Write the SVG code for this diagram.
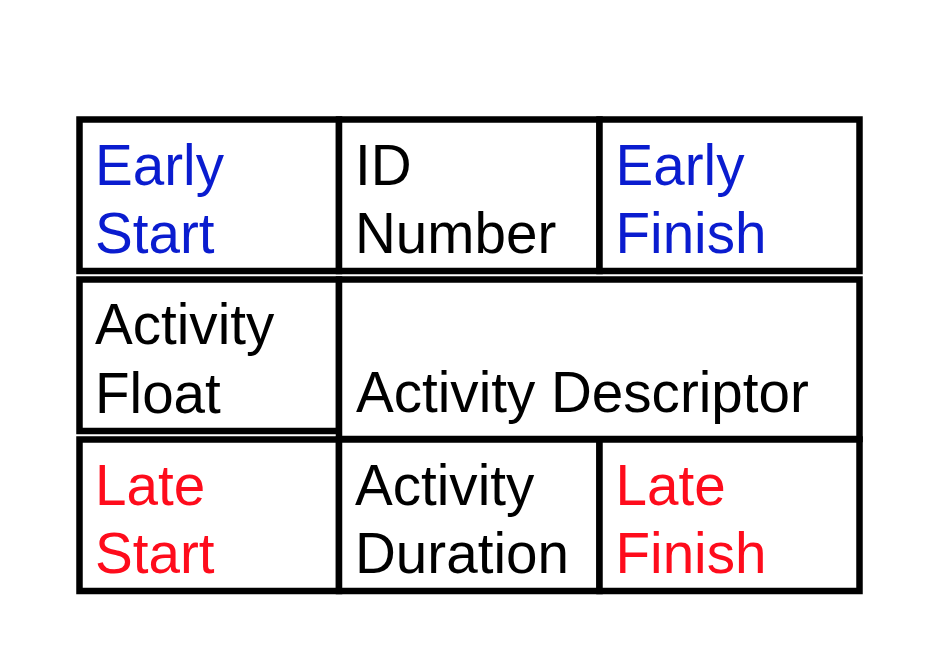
<svg xmlns="http://www.w3.org/2000/svg" width="944" height="668" viewBox="0 0 944 668">
<style>
.cell{fill:#fff;stroke:#000;stroke-width:6.5}
text{font-family:"Liberation Sans",Arial,sans-serif;font-size:56.6px}
.blue{fill:#0a1ccf}
.red{fill:#fe0c1c}
.black{fill:#000}
</style>
<rect width="944" height="668" fill="#fff"/>
<g id="early-start"><rect class="cell" x="79.5" y="119.5" width="259.5" height="151.5"/><text class="blue" x="95" y="185">Early</text><text class="blue" x="95" y="252.5">Start</text></g>
<g id="id-number"><rect class="cell" x="339" y="119.5" width="260.5" height="151.5"/><text class="black" x="355" y="185">ID</text><text class="black" x="355" y="252.5">Number</text></g>
<g id="early-finish"><rect class="cell" x="599.5" y="119.5" width="260" height="151.5"/><text class="blue" x="615.5" y="185">Early</text><text class="blue" x="615.5" y="252.5">Finish</text></g>
<g id="activity-float"><rect class="cell" x="79.5" y="279.5" width="259.5" height="151.5"/><text class="black" x="95" y="344">Activity</text><text class="black" x="95" y="412.5">Float</text></g>
<g id="activity-descriptor"><rect class="cell" x="339" y="279.5" width="520.5" height="159.5"/><text class="black" x="356" y="411.5">Activity Descriptor</text></g>
<g id="late-start"><rect class="cell" x="79.5" y="439.5" width="259.5" height="151.5"/><text class="red" x="95" y="505">Late</text><text class="red" x="95" y="572.5">Start</text></g>
<g id="activity-duration"><rect class="cell" x="339" y="439.5" width="260.5" height="151.5"/><text class="black" x="355" y="505">Activity</text><text class="black" x="355" y="572.5">Duration</text></g>
<g id="late-finish"><rect class="cell" x="599.5" y="439.5" width="260" height="151.5"/><text class="red" x="615.5" y="505">Late</text><text class="red" x="615.5" y="572.5">Finish</text></g>
<g id="connectors"></g>
</svg>
